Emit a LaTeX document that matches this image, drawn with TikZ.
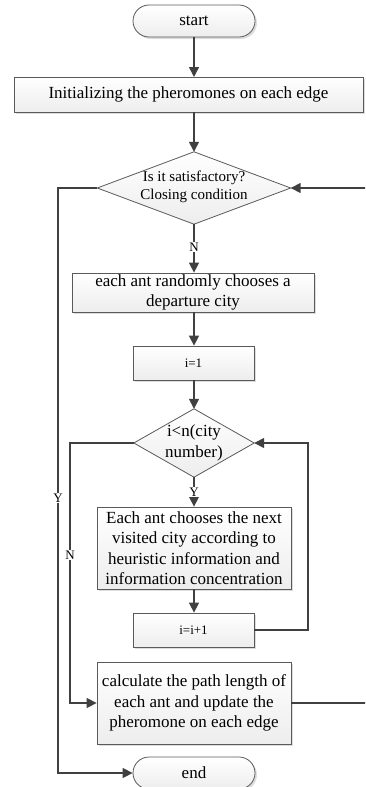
\documentclass[tikz,border=0pt]{standalone}
\usepackage{fontspec}
\setmainfont{Liberation Serif}
\usetikzlibrary{arrows.meta,shadows}
\definecolor{ln}{HTML}{404040}
\definecolor{bd}{HTML}{5A5A5A}
\tikzset{
  boxbase/.style={draw=bd, line width=0.8pt, top color=white, bottom color=gray!14,
    drop shadow={shadow xshift=2pt, shadow yshift=-2pt, fill=gray!45, opacity=0.6},
    inner sep=0pt, align=center},
  procbox/.style={boxbase, rectangle, font=\fontsize{17}{20.5}\selectfont},
  smallbox/.style={boxbase, rectangle, font=\fontsize{13}{16}\selectfont},
  termbox/.style={boxbase, rectangle, rounded corners=16pt, font=\fontsize{17}{20}\selectfont},
  dframe/.style={rectangle, inner sep=0pt},
  dshape/.style={draw=bd, line width=0.8pt, top color=white, bottom color=gray!14},
  flow/.style={draw=ln, line width=1.5pt, -{Triangle[length=10pt,width=10pt]}},
  flowline/.style={draw=ln, line width=1.5pt},
  lbl/.style={fill=white, inner sep=1pt, font=\fontsize{13}{15}\selectfont}
}
\begin{document}
\begin{tikzpicture}[x=1pt,y=-1pt]
\useasboundingbox (0,0) rectangle (365,787);
\clip (0,0) rectangle (365,787);
% nodes
\node[termbox, minimum width=122pt, minimum height=32pt] (start) at (194,21) {start};
\node[procbox, minimum width=349pt, minimum height=35pt] (init) at (188.5,94.5) {Initializing the pheromones on each edge};
\node[dframe, minimum width=193pt, minimum height=72pt] (d1) at (194,188) {};
\path[dshape] (d1.north) -- (d1.east) -- (d1.south) -- (d1.west) -- cycle;
\node[align=center, inner sep=0pt, font=\fontsize{15}{18.5}\selectfont] (d1t) at (194,187) {Is it satisfactory?\\Closing condition};
\node[procbox, minimum width=242pt, minimum height=39pt] (b2) at (193,292.5) {each ant randomly chooses a\\departure city};
\node[smallbox, minimum width=121pt, minimum height=34pt] (b3) at (193.5,363) {i=1};
\node[dframe, minimum width=120pt, minimum height=68pt] (d2) at (194,443) {};
\path[dshape] (d2.north) -- (d2.east) -- (d2.south) -- (d2.west) -- cycle;
\node[align=center, inner sep=0pt, font=\fontsize{17}{21}\selectfont] (d2t) at (194,443) {i<n(city\\number)};
\node[procbox, minimum width=194pt, minimum height=82pt] (b4) at (194,548) {Each ant chooses the next\\visited city according to\\heuristic information and\\information concentration};
\node[smallbox, minimum width=121pt, minimum height=34pt] (b5) at (193.5,630) {i=i+1};
\node[procbox, minimum width=194pt, minimum height=82pt] (calc) at (194,703) {calculate the path length of\\each ant and update the\\pheromone on each edge};
\node[termbox, minimum width=122pt, minimum height=32pt] (end) at (194,773) {end};
% helper coordinates
\coordinate (ly1) at (58,188);
\coordinate (ly2) at (58,773);
\coordinate (ln1) at (70,443);
\coordinate (ln2) at (70,703);
\coordinate (rl1) at (308,630);
\coordinate (rl2) at (308,443);
\coordinate (rr1) at (372,703);
\coordinate (rr2) at (372,188);
% connectors
\draw[flow] (start.south -| 194,0) -- (194,77);
\draw[flow] (init.south -| d1.north) -- (d1.north);
\draw[flow] (d1.south) -- (d1.south |- b2.north) node[lbl, pos=0.47] {N};
\draw[flow] (b2.south -| d1.south) -- (d1.south |- b3.north);
\draw[flow] (b3.south -| d2.north) -- (d2.north);
\draw[flow] (d2.south) -- (b4.north) node[lbl, pos=0.5] {Y};
\draw[flow] (b4.south) -- (b4.south |- b5.north);
\draw[flow] (d1.west) -- (ly1) -- (ly2) node[lbl, pos=0.53] {Y} -- (end.west);
\draw[flow] (d2.west) -- (ln1) -- (ln2) node[lbl, pos=0.43] {N} -- (calc.west);
\draw[flow] (b5.east) -- (rl1) -- (rl2) -- (d2.east);
\draw[flow] (calc.east) -- (rr1) -- (rr2) -- (d1.east);
\end{tikzpicture}
\end{document}
